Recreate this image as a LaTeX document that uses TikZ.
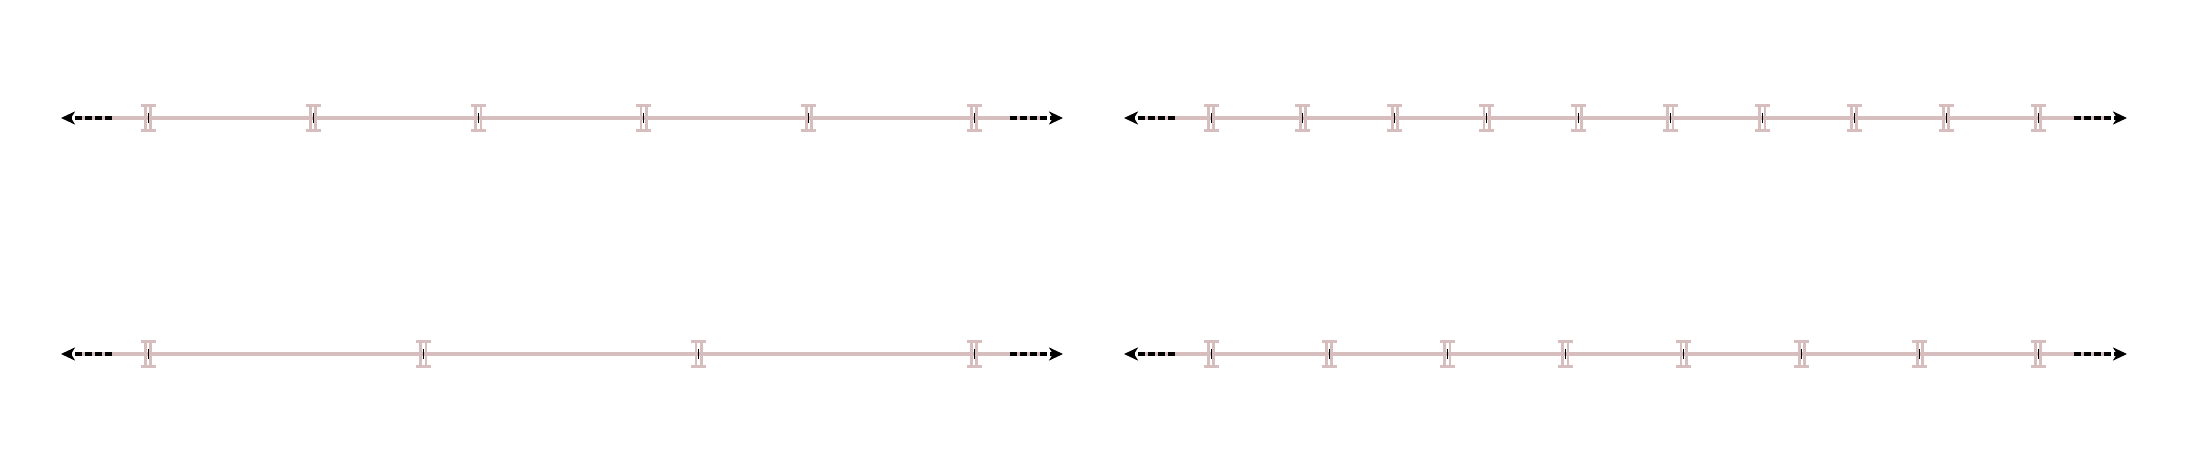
\documentclass[tikz,border=0pt]{standalone}
\usetikzlibrary{arrows.meta}
\definecolor{hl}{RGB}{214,190,190}
\tikzset{
  hlline/.style={draw=hl, line width=4.2pt},
  hlcap/.style={draw=hl, line width=2.8pt},
  tickmark/.style={draw=black, line width=1pt},
  endarrow/.style={draw=black, line width=4pt, dash pattern=on 7pt off 3pt,
    -{Stealth[length=14pt,width=13pt,inset=4pt]}},
}
% \numline{first tick x}{last tick x}{number of ticks}{y}
\newcommand{\numline}[4]{%
  \pgfmathsetmacro{\stepw}{(#2-#1)/(#3-1)}%
  \coordinate (L#4) at (#1-71,#4);
  \coordinate (R#4) at (#2+71,#4);
  \coordinate (LA#4) at (#1-36,#4);
  \coordinate (LT#4) at (#1-87,#4);
  \coordinate (RA#4) at (#2+36,#4);
  \coordinate (RT#4) at (#2+89,#4);
  \draw[hlline] (L#4) -- (R#4);
  \draw[endarrow] (LA#4) -- (LT#4);
  \draw[endarrow] (RA#4) -- (RT#4);
  \foreach \i in {1,...,#3}{%
    \pgfmathsetmacro{\tx}{#1+(\i-1)*\stepw}%
    \coordinate (t) at (\tx,#4);
    \draw[hlcap] ([xshift=-2.6pt,yshift=-12.5pt]t) -- ([xshift=-2.6pt,yshift=12.5pt]t);
    \draw[hlcap] ([xshift=2.6pt,yshift=-12.5pt]t) -- ([xshift=2.6pt,yshift=12.5pt]t);
    \draw[hlcap] ([xshift=-7.5pt,yshift=12.5pt]t) -- ([xshift=7.5pt,yshift=12.5pt]t);
    \draw[hlcap] ([xshift=-7.5pt,yshift=-12.5pt]t) -- ([xshift=7.5pt,yshift=-12.5pt]t);
    \draw[tickmark] ([yshift=-5pt]t) -- ([yshift=5pt]t);
  }%
}
\begin{document}
\begin{tikzpicture}[x=1pt,y=1pt]
  \useasboundingbox (0,0) rectangle (2186,474);
  \numline{148}{974}{6}{356}
  \numline{1211}{2038}{10}{356}
  \numline{148}{974}{4}{120}
  \numline{1211}{2038}{8}{120}
\end{tikzpicture}
\end{document}
